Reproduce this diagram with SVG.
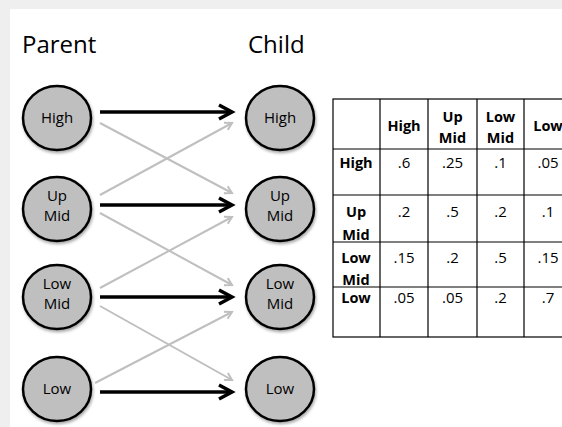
<svg xmlns="http://www.w3.org/2000/svg" width="562" height="427" viewBox="0 0 562 427">
<defs>
<style>
.title{font-family:"Open Sans","Liberation Sans",sans-serif;font-size:24px;fill:#000}
.nt{font-family:"Open Sans","Liberation Sans",sans-serif;font-size:15px;fill:#000;text-anchor:middle}
.node{fill:#bfbfbf;stroke:#000;stroke-width:2.5;filter:url(#sh)}
.blk{stroke:#000;stroke-width:3.5;fill:none}
.gry{stroke:#bfbfbf;stroke-width:2;fill:none}
.tl{stroke:#000;stroke-width:1.2;fill:none}
.th{font-family:"Open Sans","Liberation Sans",sans-serif;font-size:14.5px;font-weight:bold;fill:#000;text-anchor:middle}
.td{font-family:"Open Sans","Liberation Sans",sans-serif;font-size:15px;fill:#000;text-anchor:middle}
</style>
<filter id="sh" x="-20%" y="-20%" width="150%" height="150%">
<feDropShadow dx="1" dy="2" stdDeviation="1.5" flood-color="#000" flood-opacity="0.35"/>
</filter>
<marker id="ab" markerUnits="userSpaceOnUse" viewBox="-16 -9 20 18" markerWidth="20" markerHeight="18" refX="0" refY="0" orient="auto" overflow="visible">
<path d="M-13,-7 L0,0 L-13,7" fill="none" stroke="#000" stroke-width="3.5"/>
</marker>
<marker id="ag" markerUnits="userSpaceOnUse" viewBox="-10 -6 12 12" markerWidth="12" markerHeight="12" refX="0" refY="0" orient="auto" overflow="visible">
<path d="M-7,-4 L0,0 L-7,4" fill="none" stroke="#bfbfbf" stroke-width="2"/>
</marker>
</defs>
<rect x="0" y="0" width="562" height="427" fill="#efefef"/>
<rect x="10" y="9" width="552" height="418" fill="#fff"/>
<text class="title" x="22" y="53">Parent</text>
<text class="title" x="248" y="53">Child</text>
<g id="connectors">
<line class="gry" x1="100" y1="123" x2="232" y2="193" marker-end="url(#ag)"/>
<line class="gry" x1="100" y1="195" x2="232" y2="123" marker-end="url(#ag)"/>
<line class="gry" x1="100" y1="213" x2="232" y2="285" marker-end="url(#ag)"/>
<line class="gry" x1="100" y1="288" x2="232" y2="217" marker-end="url(#ag)"/>
<line class="gry" x1="100" y1="306" x2="232" y2="380" marker-end="url(#ag)"/>
<line class="gry" x1="95" y1="383" x2="232" y2="312" marker-end="url(#ag)"/>
<line class="blk" x1="100" y1="112" x2="232" y2="112" marker-end="url(#ab)"/>
<line class="blk" x1="100" y1="205" x2="232" y2="205" marker-end="url(#ab)"/>
<line class="blk" x1="100" y1="297" x2="232" y2="297" marker-end="url(#ab)"/>
<line class="blk" x1="100" y1="392" x2="232" y2="392" marker-end="url(#ab)"/>
</g>
<g id="p-high"><ellipse class="node" cx="57" cy="118" rx="34" ry="32"/><text class="nt" x="57" y="123">High</text></g>
<g id="p-upmid"><ellipse class="node" cx="57" cy="209" rx="34" ry="32"/><text class="nt" x="57" y="201">Up</text><text class="nt" x="57" y="221">Mid</text></g>
<g id="p-lowmid"><ellipse class="node" cx="57" cy="297" rx="34" ry="32"/><text class="nt" x="57" y="289">Low</text><text class="nt" x="57" y="309">Mid</text></g>
<g id="p-low"><ellipse class="node" cx="57" cy="389" rx="34" ry="32"/><text class="nt" x="57" y="394">Low</text></g>
<g id="c-high"><ellipse class="node" cx="280" cy="118" rx="34" ry="32"/><text class="nt" x="280" y="123">High</text></g>
<g id="c-upmid"><ellipse class="node" cx="280" cy="209" rx="34" ry="32"/><text class="nt" x="280" y="201">Up</text><text class="nt" x="280" y="221">Mid</text></g>
<g id="c-lowmid"><ellipse class="node" cx="280" cy="297" rx="34" ry="32"/><text class="nt" x="280" y="289">Low</text><text class="nt" x="280" y="309">Mid</text></g>
<g id="c-low"><ellipse class="node" cx="280" cy="389" rx="34" ry="32"/><text class="nt" x="280" y="394">Low</text></g>
<g id="table">
<rect class="tl" x="333" y="99" width="240" height="238"/>
<line class="tl" x1="380" y1="99" x2="380" y2="337"/>
<line class="tl" x1="428" y1="99" x2="428" y2="337"/>
<line class="tl" x1="477" y1="99" x2="477" y2="337"/>
<line class="tl" x1="524" y1="99" x2="524" y2="337"/>
<line class="tl" x1="333" y1="149" x2="573" y2="149"/>
<line class="tl" x1="333" y1="195" x2="573" y2="195"/>
<line class="tl" x1="333" y1="242" x2="573" y2="242"/>
<line class="tl" x1="333" y1="287" x2="573" y2="287"/>
<text class="th" x="404" y="131">High</text>
<text class="th" x="452.5" y="122">Up</text><text class="th" x="452.5" y="143">Mid</text>
<text class="th" x="500.5" y="122">Low</text><text class="th" x="500.5" y="143">Mid</text>
<text class="th" x="548" y="131">Low</text>
<text class="th" x="356" y="168">High</text>
<text class="td" x="404" y="168">.6</text><text class="td" x="452.5" y="168">.25</text><text class="td" x="500.5" y="168">.1</text><text class="td" x="548" y="168">.05</text>
<text class="th" x="356" y="217">Up</text><text class="th" x="356" y="240">Mid</text>
<text class="td" x="404" y="217">.2</text><text class="td" x="452.5" y="217">.5</text><text class="td" x="500.5" y="217">.2</text><text class="td" x="548" y="217">.1</text>
<text class="th" x="356" y="263">Low</text><text class="th" x="356" y="285">Mid</text>
<text class="td" x="404" y="263">.15</text><text class="td" x="452.5" y="263">.2</text><text class="td" x="500.5" y="263">.5</text><text class="td" x="548" y="263">.15</text>
<text class="th" x="356" y="303">Low</text>
<text class="td" x="404" y="303">.05</text><text class="td" x="452.5" y="303">.05</text><text class="td" x="500.5" y="303">.2</text><text class="td" x="548" y="303">.7</text>
</g>
</svg>
